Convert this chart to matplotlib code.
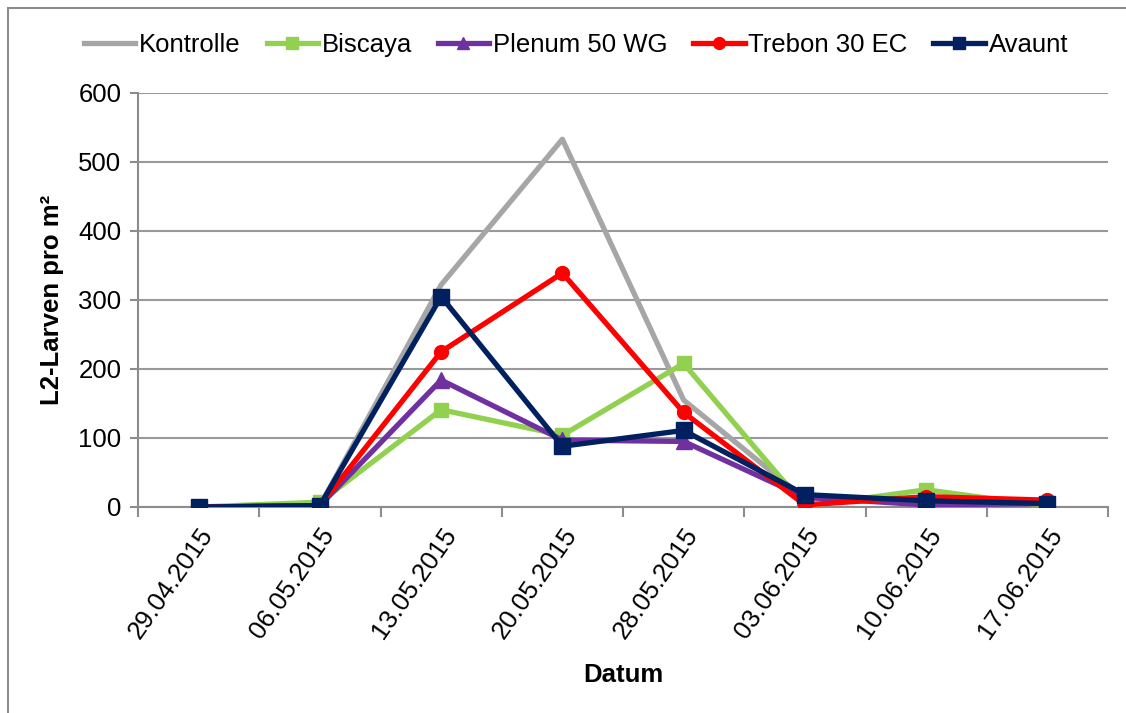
import matplotlib
matplotlib.use("Agg")
import matplotlib.pyplot as plt
from matplotlib.patches import Rectangle

dates = ["29.04.2015", "06.05.2015", "13.05.2015", "20.05.2015",
         "28.05.2015", "03.06.2015", "10.06.2015", "17.06.2015"]
kontrolle = [0, 2, 322, 533, 155, 12, 12, 8]
biscaya = [0, 7, 141, 104, 208, 1, 25, 1]
plenum = [0, 2, 184, 97, 95, 14, 3, 5]
trebon = [0, 2, 225, 339, 137, 3, 15, 10]
avaunt = [0, 2, 305, 88, 111, 18, 9, 5]

plt.rcParams['font.family'] = ['Liberation Sans', 'DejaVu Sans']

fs = 18.5
fig = plt.figure(figsize=(11.26, 7.13), dpi=100)
ax = fig.add_axes([138/1126, 1-507/713, (1108-138)/1126, (507-93)/713])

fig.patches.append(Rectangle((8/1126, -0.1), 1.2, 1-8/713+0.1, transform=fig.transFigure,
                             fill=False, edgecolor='#8c8c8c', linewidth=1.5))

x = list(range(len(dates)))
lw = 3.8
ax.plot(x, kontrolle, color='#A6A6A6', lw=lw, label='Kontrolle', zorder=3)
ax.plot(x, biscaya, color='#92D050', lw=lw, marker='s', ms=10, label='Biscaya', zorder=4)
ax.plot(x, plenum, color='#7030A0', lw=lw, marker='^', ms=11, label='Plenum 50 WG', zorder=5)
ax.plot(x, trebon, color='#FF0000', lw=lw, marker='o', ms=10, label='Trebon 30 EC', zorder=6)
ax.plot(x, avaunt, color='#002060', lw=lw, marker='s', ms=11, label='Avaunt', zorder=7)

ax.set_xlim(-0.5, len(dates)-0.5)
ax.set_ylim(0, 600)
ax.set_yticks(range(0, 601, 100))
ax.set_xticks([i - 0.5 for i in range(len(dates)+1)])
ax.set_xticklabels([])
ax.set_xticks(x, minor=True)
ax.set_xticklabels(dates, minor=True, rotation=55, ha='right', va='top',
                   rotation_mode='anchor', fontsize=fs)
ax.tick_params(axis='x', which='minor', length=0, pad=12)
ax.tick_params(axis='x', which='major', length=7, width=1.5, color='#8c8c8c')
ax.tick_params(axis='y', length=6, width=1.5, color='#8c8c8c', labelsize=fs, pad=6)

ax.yaxis.grid(True, color='#999999', lw=1.5)
ax.set_axisbelow(True)
for s in ['top', 'right']:
    ax.spines[s].set_visible(False)
for s in ['left', 'bottom']:
    ax.spines[s].set_color('#8c8c8c')
    ax.spines[s].set_linewidth(1.5)

ax.set_ylabel('L2-Larven pro m²', fontsize=fs, fontweight='bold', labelpad=10)
ax.set_xlabel('Datum', fontsize=fs, fontweight='bold', labelpad=14)

fig.legend(loc='center', bbox_to_anchor=(576/1126, 1-45/713), ncol=5, frameon=False,
           fontsize=fs, handlelength=2.0, handletextpad=0.15, columnspacing=1.0,
           markerscale=0.85)

fig.savefig('out.png', dpi=100)
